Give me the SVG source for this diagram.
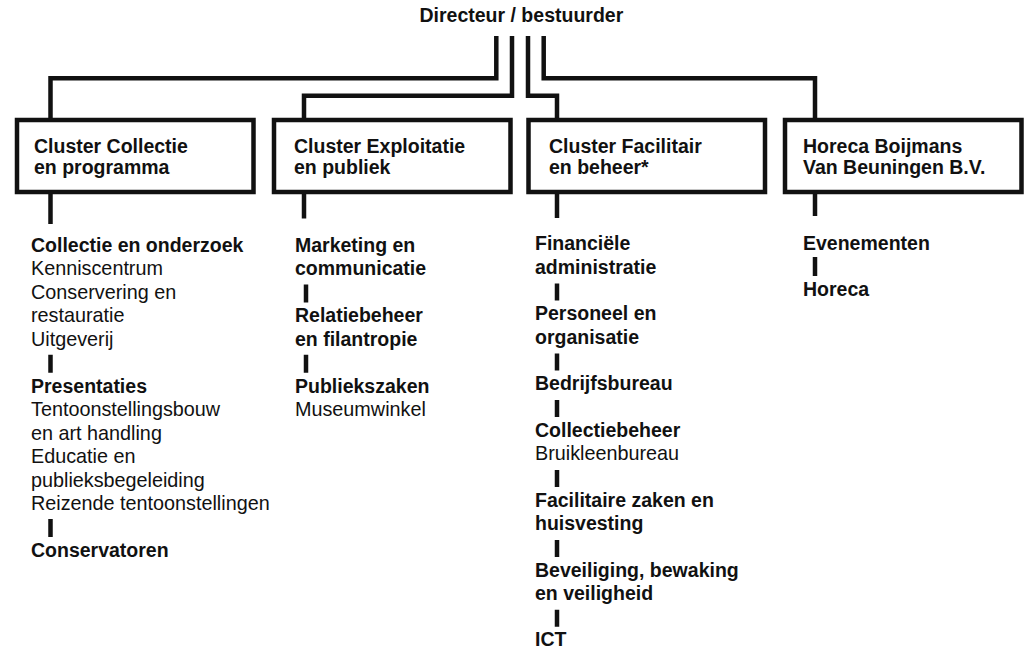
<svg xmlns="http://www.w3.org/2000/svg" width="1031" height="652" viewBox="0 0 1031 652">
<style>
text{font-family:"Liberation Sans",Arial,sans-serif;font-size:19.5px;fill:#111}
.b{font-weight:bold}
.r{font-weight:normal;font-size:19.8px}
.box{fill:#fff;stroke:#111;stroke-width:4.5}
.ln{fill:none;stroke:#111;stroke-width:4.5;stroke-linejoin:miter;stroke-linecap:butt}
</style>
<rect width="1031" height="652" fill="#fff"/>
<g id="connectors">
<path class="ln" d="M496.3,36 V78.3 H50.5 V120"/>
<path class="ln" d="M512,36 V95.7 H304 V120"/>
<path class="ln" d="M528,36 V95.7 H557 V120"/>
<path class="ln" d="M543.7,36 V78.3 H815 V120"/>
<path class="ln" d="M50.5,192 V224"/>
<path class="ln" d="M304,192 V218.5"/>
<path class="ln" d="M557,192 V218"/>
<path class="ln" d="M815,192 V216"/>
<path class="ln" d="M50.5,354.8 V372.8 M50.5,518.9 V536.9"/>
<path class="ln" d="M306,284.5 V302.5 M306,354.8 V372.8"/>
<path class="ln" d="M557,283.6 V300.6 M557,353.5 V370.5 M557,400.1 V417.1 M557,470 V487 M557,539.9 V556.9 M557,609.8 V626.8"/>
<path class="ln" d="M815,257 V276"/>
</g>
<g id="director">
<text class="b" x="419.5" y="22">Directeur / bestuurder</text>
</g>
<g id="cluster-collectie">
<rect class="box" x="17" y="120" width="236.5" height="72"/>
<text class="b" x="34" y="153">Cluster Collectie</text>
<text class="b" x="34" y="174.3">en programma</text>
</g>
<g id="cluster-exploitatie">
<rect class="box" x="274" y="120" width="236.5" height="72"/>
<text class="b" x="294" y="153">Cluster Exploitatie</text>
<text class="b" x="294" y="174.3">en publiek</text>
</g>
<g id="cluster-facilitair">
<rect class="box" x="528.5" y="120" width="236.5" height="72"/>
<text class="b" x="549" y="153">Cluster Facilitair</text>
<text class="b" x="549" y="174.3">en beheer*</text>
</g>
<g id="horeca-bv">
<rect class="box" x="785" y="120" width="236.5" height="72"/>
<text class="b" x="803" y="153">Horeca Boijmans</text>
<text class="b" x="803" y="174.3">Van Beuningen B.V.</text>
</g>
<g id="col1-collectie-onderzoek">
<text class="b" x="31" y="252">Collectie en onderzoek</text>
<text class="r" x="31" y="275.45">Kenniscentrum</text>
<text class="r" x="31" y="298.9">Conservering en</text>
<text class="r" x="31" y="322.35">restauratie</text>
<text class="r" x="31" y="345.8">Uitgeverij</text>
</g>
<g id="col1-presentaties">
<text class="b" x="31" y="392.7">Presentaties</text>
<text class="r" x="31" y="416.15">Tentoonstellingsbouw</text>
<text class="r" x="31" y="439.6">en art handling</text>
<text class="r" x="31" y="463.05">Educatie en</text>
<text class="r" x="31" y="486.5">publieksbegeleiding</text>
<text class="r" x="31" y="509.95">Reizende tentoonstellingen</text>
</g>
<g id="col1-conservatoren">
<text class="b" x="31" y="556.85">Conservatoren</text>
</g>
<g id="col2-marketing">
<text class="b" x="295" y="252">Marketing en</text>
<text class="b" x="295" y="275.45">communicatie</text>
</g>
<g id="col2-relatiebeheer">
<text class="b" x="295" y="322.35">Relatiebeheer</text>
<text class="b" x="295" y="345.8">en filantropie</text>
</g>
<g id="col2-publiekszaken">
<text class="b" x="295" y="392.7">Publiekszaken</text>
<text class="r" x="295" y="416.15">Museumwinkel</text>
</g>
<g id="col3-financiele">
<text class="b" x="535" y="250.3">Financiële</text>
<text class="b" x="535" y="273.6">administratie</text>
</g>
<g id="col3-personeel">
<text class="b" x="535" y="320.2">Personeel en</text>
<text class="b" x="535" y="343.5">organisatie</text>
</g>
<g id="col3-bedrijfsbureau">
<text class="b" x="535" y="390.1">Bedrijfsbureau</text>
</g>
<g id="col3-collectiebeheer">
<text class="b" x="535" y="436.7">Collectiebeheer</text>
<text class="r" x="535" y="460">Bruikleenbureau</text>
</g>
<g id="col3-facilitaire">
<text class="b" x="535" y="506.6">Facilitaire zaken en</text>
<text class="b" x="535" y="529.9">huisvesting</text>
</g>
<g id="col3-beveiliging">
<text class="b" x="535" y="576.5">Beveiliging, bewaking</text>
<text class="b" x="535" y="599.8">en veiligheid</text>
</g>
<g id="col3-ict">
<text class="b" x="535" y="646.4">ICT</text>
</g>
<g id="col4-evenementen">
<text class="b" x="803" y="249.5">Evenementen</text>
</g>
<g id="col4-horeca">
<text class="b" x="803" y="296">Horeca</text>
</g>
</svg>
